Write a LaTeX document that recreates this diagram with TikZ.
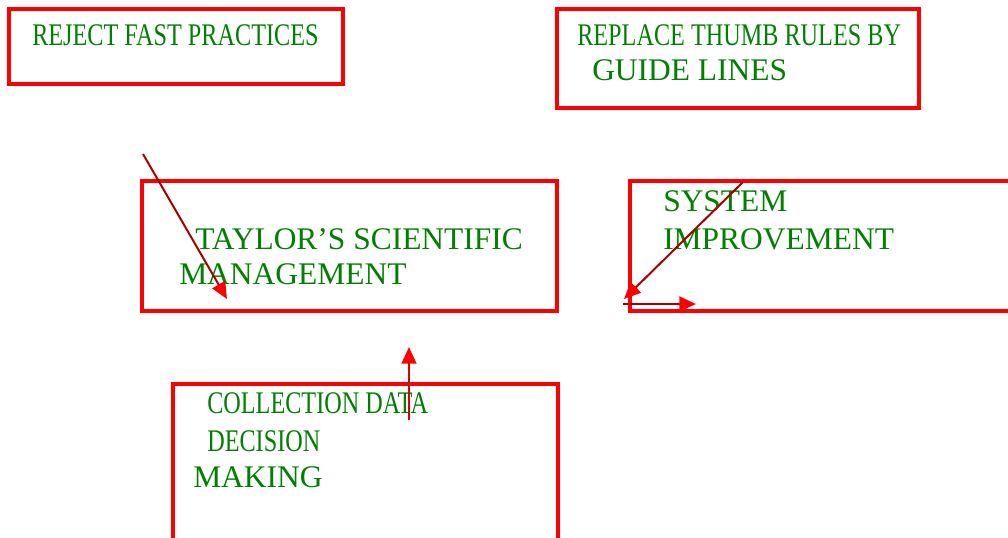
\documentclass[tikz,border=0pt]{standalone}
\usepackage{fontspec}
\setmainfont{Liberation Serif}
\newfontfamily\narrowserif[FakeStretch=0.77]{Liberation Serif}
\usetikzlibrary{arrows.meta}

\begin{document}
\begin{tikzpicture}[
      x=0.75pt, y=-0.75pt,
      box/.style={red,line width=2.4pt},
      lbl/.style={anchor=base west,inner sep=0pt,text=green!50!black,
        font=\fontsize{23.6}{28}\selectfont},
      lbl_narrow/.style={lbl,font=\fontsize{23.6}{28}\selectfont\narrowserif},
      trans/.style={red!65!black,line width=1.5pt,
        -{Triangle[length=12.5pt,width=11pt,color=red]}},
    ]
    \useasboundingbox (0,0) rectangle (1008,537);
    \coordinate (Rej_a) at (9,9);
    \coordinate (Rej_b) at (343,84);
    \coordinate (Rep_a) at (557,9);
    \coordinate (Rep_b) at (919,108);
    \coordinate (Tay_a) at (142,181);
    \coordinate (Tay_b) at (557,311);
    \coordinate (Sys_a) at (630,181);
    \coordinate (Sys_b) at (1014,311);
    \coordinate (Col_a) at (173,384);
    \coordinate (Col_b) at (558,548);
    % Draw the boxes.
    \draw[box] (Rej_a) rectangle (Rej_b);
    \draw[box] (Rep_a) rectangle (Rep_b);
    \draw[box] (Tay_a) rectangle (Tay_b);
    \draw[box] (Sys_a) rectangle (Sys_b);
    \draw[box] (Col_a) rectangle (Col_b);

    % Draw the texts.
    \node[lbl_narrow] (reject) at (32,45) {REJECT FAST PRACTICES};
    \node[lbl_narrow] (replace) at (577,45) {REPLACE THUMB RULES BY};
    \node[lbl] (guide) at (592,80) {GUIDE LINES};
    \node[lbl] (taylor) at (195,249) {TAYLOR'S SCIENTIFIC};
    \node[lbl] (manage) at (179,284) {MANAGEMENT};
    \node[lbl] (system) at (663,211) {SYSTEM};
    \node[lbl] (improve) at (663,249) {IMPROVEMENT};
    \node[lbl_narrow] (collect) at (207,413) {COLLECTION DATA};
    \node[lbl_narrow] (decide) at (207,451) {DECISION};
    \node[lbl] (making) at (193,487) {MAKING};

    % Draw the arrows.
    \coordinate (A1_a) at (143,154);
    \coordinate (A1_b) at (227,299);
    \draw[trans] (A1_a) -- (A1_b);
    \coordinate (A2_a) at (743,182);
    \coordinate (A2_b) at (624,299);
    \draw[trans] (A2_a) -- (A2_b);
    \coordinate (A3_a) at (623,304);
    \coordinate (A3_b) at (696,304);
    \draw[trans,line width=2.2pt] (A3_a) -- (A3_b);
    \coordinate (A4_a) at (409,420);
    \coordinate (A4_b) at (409,347);
    \draw[trans,red!85!black,line width=2pt] (A4_a) -- (A4_b);
\end{tikzpicture}
\end{document}
